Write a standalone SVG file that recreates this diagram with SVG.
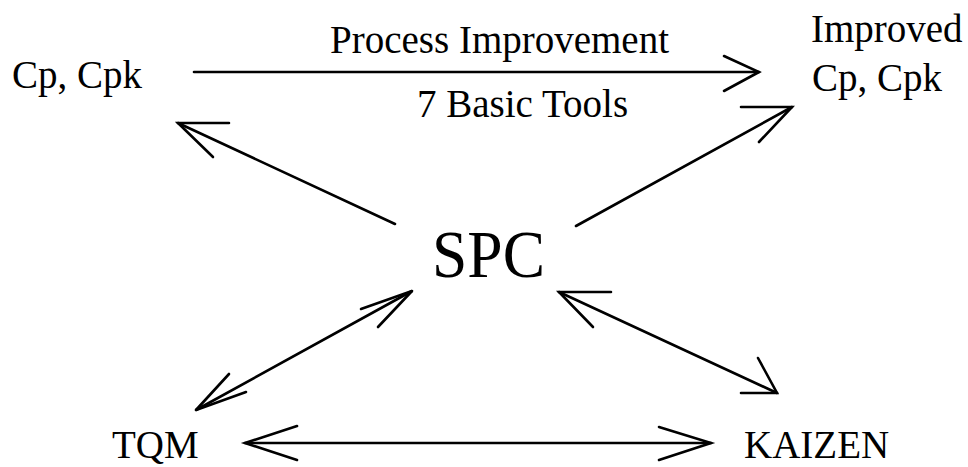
<svg xmlns="http://www.w3.org/2000/svg" width="968" height="467" viewBox="0 0 968 467" font-family="Liberation Serif, DejaVu Serif, serif">
<style>
text{font-size:39px;fill:#000}
.big{font-size:68px}
.c{fill:none;stroke:#000;stroke-width:2.6;stroke-linecap:round;stroke-linejoin:miter}
</style>
<rect width="968" height="467" fill="#fff"/>
<g id="cp-cpk"><text x="12" y="88" font-family="Liberation Serif, DejaVu Serif, serif">Cp, Cpk</text></g>
<g id="improved"><text x="811" y="42" font-family="Liberation Serif, DejaVu Serif, serif">Improved</text><text x="812" y="91" font-family="Liberation Serif, DejaVu Serif, serif">Cp, Cpk</text></g>
<g id="spc"><text class="big" x="432" y="277" textLength="113" lengthAdjust="spacingAndGlyphs" font-family="Liberation Serif, DejaVu Serif, serif">SPC</text></g>
<g id="tqm"><text x="112" y="458" font-family="Liberation Serif, DejaVu Serif, serif">TQM</text></g>
<g id="kaizen"><text x="744" y="458" font-family="Liberation Serif, DejaVu Serif, serif">KAIZEN</text></g>
<g id="labels">
<text x="330" y="53" font-family="Liberation Serif, DejaVu Serif, serif">Process Improvement</text>
<text x="417" y="117" font-family="Liberation Serif, DejaVu Serif, serif">7 Basic Tools</text>
</g>
<g id="connectors">
<line class="c" x1="194" y1="72" x2="759" y2="72"/>
<polyline class="c" points="724,56 759,72 724,91"/>
<line class="c" x1="395" y1="224" x2="178" y2="123"/>
<polyline class="c" points="229,123 178,123 213,157"/>
<line class="c" x1="576" y1="226" x2="792" y2="107"/>
<polyline class="c" points="741,107 792,107 759,142"/>
<line class="c" x1="196" y1="410" x2="412" y2="291"/>
<polyline class="c" points="361,309 412,291 378,327"/>
<polyline class="c" points="229,374 196,410 246,392"/>
<line class="c" x1="559" y1="292" x2="777" y2="393"/>
<polyline class="c" points="611,292 559,292 593,327"/>
<polyline class="c" points="741,393 777,393 758,358"/>
<line class="c" x1="245" y1="443" x2="711" y2="443"/>
<polyline class="c" points="297,426 245,443 297,460"/>
<polyline class="c" points="659,427 711,443 659,460"/>
</g>
</svg>
